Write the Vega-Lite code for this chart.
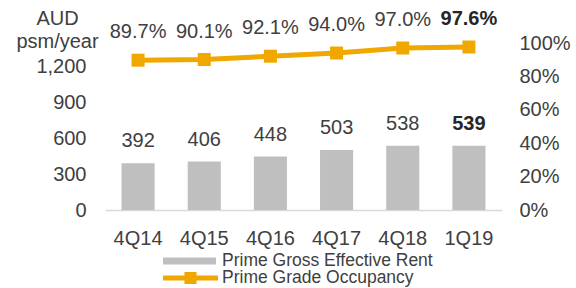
{
  "$schema": "https://vega.github.io/schema/vega-lite/v6.json",
  "autosize": {"type": "none"},
  "padding": {"left": 105, "top": 43, "right": 74, "bottom": 78},
  "width": 397,
  "height": 167,
  "config": {
    "view": {"stroke": null},
    "font": "Liberation Sans",
    "text": {"color": "#404040"},
    "axis": {"labelOverlap": false}
  },
  "data": {
    "values": [
      {"q": "4Q14", "rent": 392, "occ": 0.897},
      {"q": "4Q15", "rent": 406, "occ": 0.901},
      {"q": "4Q16", "rent": 448, "occ": 0.921},
      {"q": "4Q17", "rent": 503, "occ": 0.940},
      {"q": "4Q18", "rent": 538, "occ": 0.970},
      {"q": "1Q19", "rent": 539, "occ": 0.976}
    ]
  },
  "encoding": {
    "x": {
      "field": "q", "type": "nominal", "sort": ["4Q14", "4Q15", "4Q16", "4Q17", "4Q18", "1Q19"],
      "scale": {"paddingInner": 0.5, "paddingOuter": 0.25},
      "axis": {
        "title": null, "labelAngle": 0, "ticks": false, "tickSize": 0,
        "labelPadding": 18, "labelFontSize": 20, "labelColor": "#404040",
        "domainColor": "#D9D9D9", "domainWidth": 1.5, "grid": false
      }
    }
  },
  "layer": [
    {
      "encoding": {
        "y": {
          "field": "rent", "type": "quantitative",
          "scale": {"domain": [0, 1400]},
          "axis": {
            "orient": "left", "values": [0, 300, 600, 900, 1200], "format": ",d",
            "grid": false, "domain": false, "ticks": false, "tickSize": 0, "labelOverlap": false,
            "labelPadding": 19, "labelFontSize": 20, "labelColor": "#404040",
            "title": ["AUD", "psm/year"], "titleAngle": 0, "titleX": -48, "titleY": -19,
            "titleAlign": "center", "titleBaseline": "alphabetic", "titleLineHeight": 23,
            "titleFontSize": 20, "titleFontWeight": "normal", "titleColor": "#404040"
          }
        }
      },
      "layer": [
        {
          "mark": {"type": "bar"},
          "encoding": {
            "fill": {
              "datum": "Prime Gross Effective Rent",
              "scale": {"range": ["#BFBFBF"]},
              "legend": {
                "orient": "none", "legendX": 58, "legendY": 191.5, "title": null, "padding": 0,
                "symbolType": "M-1,-0.13H1V0.13H-1Z", "symbolSize": 2809, "symbolStrokeWidth": 0,
                "labelFontSize": 17.5, "labelColor": "#404040", "labelOffset": 6, "labelLimit": 400
              }
            }
          }
        },
        {
          "transform": [{"filter": "datum.q !== '1Q19'"}],
          "mark": {"type": "text", "dy": -16, "fontSize": 20, "baseline": "alphabetic"},
          "encoding": {
            "text": {"field": "rent", "type": "quantitative", "format": "d"}
          }
        },
        {
          "transform": [{"filter": "datum.q === '1Q19'"}],
          "mark": {"type": "text", "dy": -16, "fontSize": 20, "baseline": "alphabetic", "fontWeight": "bold", "color": "#262626"},
          "encoding": {
            "text": {"field": "rent", "type": "quantitative", "format": "d"}
          }
        }
      ]
    },
    {
      "encoding": {
        "y": {
          "field": "occ", "type": "quantitative",
          "scale": {"domain": [0, 1]},
          "axis": {
            "orient": "right", "values": [0, 0.2, 0.4, 0.6, 0.8, 1], "format": ".0%",
            "grid": false, "domain": false, "ticks": false, "tickSize": 0, "labelOverlap": false,
            "labelPadding": 17, "labelFontSize": 20, "labelColor": "#404040", "title": null
          }
        }
      },
      "layer": [
        {
          "mark": {"type": "line", "strokeWidth": 5},
          "encoding": {
            "stroke": {
              "datum": "Prime Grade Occupancy",
              "scale": {"range": ["#F0A800"]},
              "legend": {
                "orient": "none", "legendX": 58, "legendY": 207.5, "title": null, "padding": 0,
                "symbolType": "M-1,-0.09H1V0.09H-1Z M-0.22,-0.22H0.22V0.22H-0.22Z",
                "symbolSize": 3025, "symbolStrokeWidth": 0, "symbolFillColor": "#F0A800",
                "labelFontSize": 17.5, "labelColor": "#404040", "labelOffset": 4, "labelLimit": 400,
                "encode": {"symbols": {"update": {"fill": {"value": "#F0A800"}, "strokeWidth": {"value": 0}}}}
              }
            }
          }
        },
        {
          "mark": {"type": "point", "shape": "square", "filled": true, "size": 169, "color": "#F0A800", "opacity": 1}
        },
        {
          "transform": [{"filter": "datum.q !== '1Q19'"}],
          "mark": {"type": "text", "dy": -22, "fontSize": 20, "baseline": "alphabetic"},
          "encoding": {
            "text": {"field": "occ", "type": "quantitative", "format": ".1%"}
          }
        },
        {
          "transform": [{"filter": "datum.q === '1Q19'"}],
          "mark": {"type": "text", "dy": -22, "fontSize": 20, "baseline": "alphabetic", "fontWeight": "bold", "color": "#262626"},
          "encoding": {
            "text": {"field": "occ", "type": "quantitative", "format": ".1%"}
          }
        }
      ]
    }
  ],
  "resolve": {"scale": {"y": "independent"}, "axis": {"y": "independent"}}
}
